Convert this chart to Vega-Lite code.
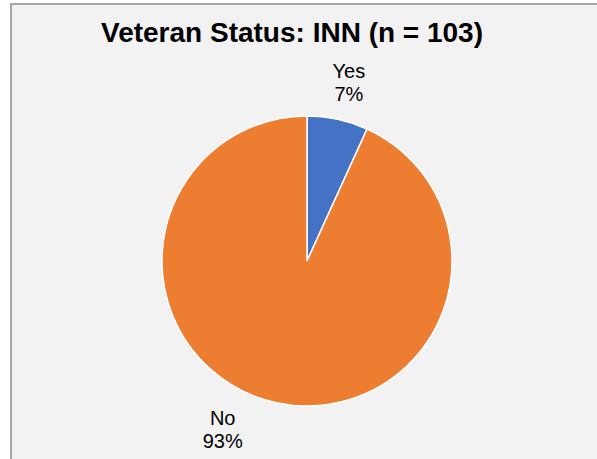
{
  "$schema": "https://vega.github.io/schema/vega-lite/v6.json",
  "autosize": {"type": "none"},
  "padding": {"left": 11, "top": 4, "right": 0, "bottom": 0},
  "width": 592,
  "height": 514,
  "background": "white",
  "config": {
    "view": {"stroke": null},
    "font": "Liberation Sans",
    "text": {"lineBreak": "\n"}
  },
  "title": {
    "text": "Veteran Status: INN (n = 103)",
    "font": "Liberation Sans",
    "fontSize": 28,
    "fontWeight": "bold",
    "color": "#000000",
    "anchor": "middle",
    "frame": "group",
    "offset": -45,
    "dx": -15
  },
  "data": {
    "values": [
      {"label": "Yes", "value": 7, "text": "Yes\n7%"},
      {"label": "No", "value": 96, "text": "No\n93%"}
    ]
  },
  "layer": [
    {
      "mark": {"type": "rect", "fill": "#f2f2f2", "stroke": "#a6a6a6", "strokeWidth": 2},
      "encoding": {}
    },
    {
      "mark": {"type": "arc", "outerRadius": 145, "stroke": "white", "strokeWidth": 1.5},
      "encoding": {
        "theta": {"field": "value", "type": "quantitative", "stack": true},
        "order": {"field": "label", "sort": "descending"},
        "color": {
          "field": "label",
          "type": "nominal",
          "scale": {"domain": ["Yes", "No"], "range": ["#4472c4", "#ed7d31"]},
          "legend": null
        }
      }
    },
    {
      "mark": {"type": "text", "radius": 193, "dx": 1, "fontSize": 20, "color": "#000000", "align": "center", "baseline": "middle", "lineHeight": 23},
      "encoding": {
        "theta": {"field": "value", "type": "quantitative", "stack": true},
        "order": {"field": "label", "sort": "descending"},
        "text": {"condition": {"test": "datum.label === 'Yes'", "field": "text"}, "value": ""}
      }
    },
    {
      "mark": {"type": "text", "radius": 162, "dx": -50, "fontSize": 20, "color": "#000000", "align": "center", "baseline": "middle", "lineHeight": 23},
      "encoding": {
        "theta": {"field": "value", "type": "quantitative", "stack": true},
        "order": {"field": "label", "sort": "descending"},
        "text": {"condition": {"test": "datum.label === 'No'", "field": "text"}, "value": ""}
      }
    }
  ]
}
